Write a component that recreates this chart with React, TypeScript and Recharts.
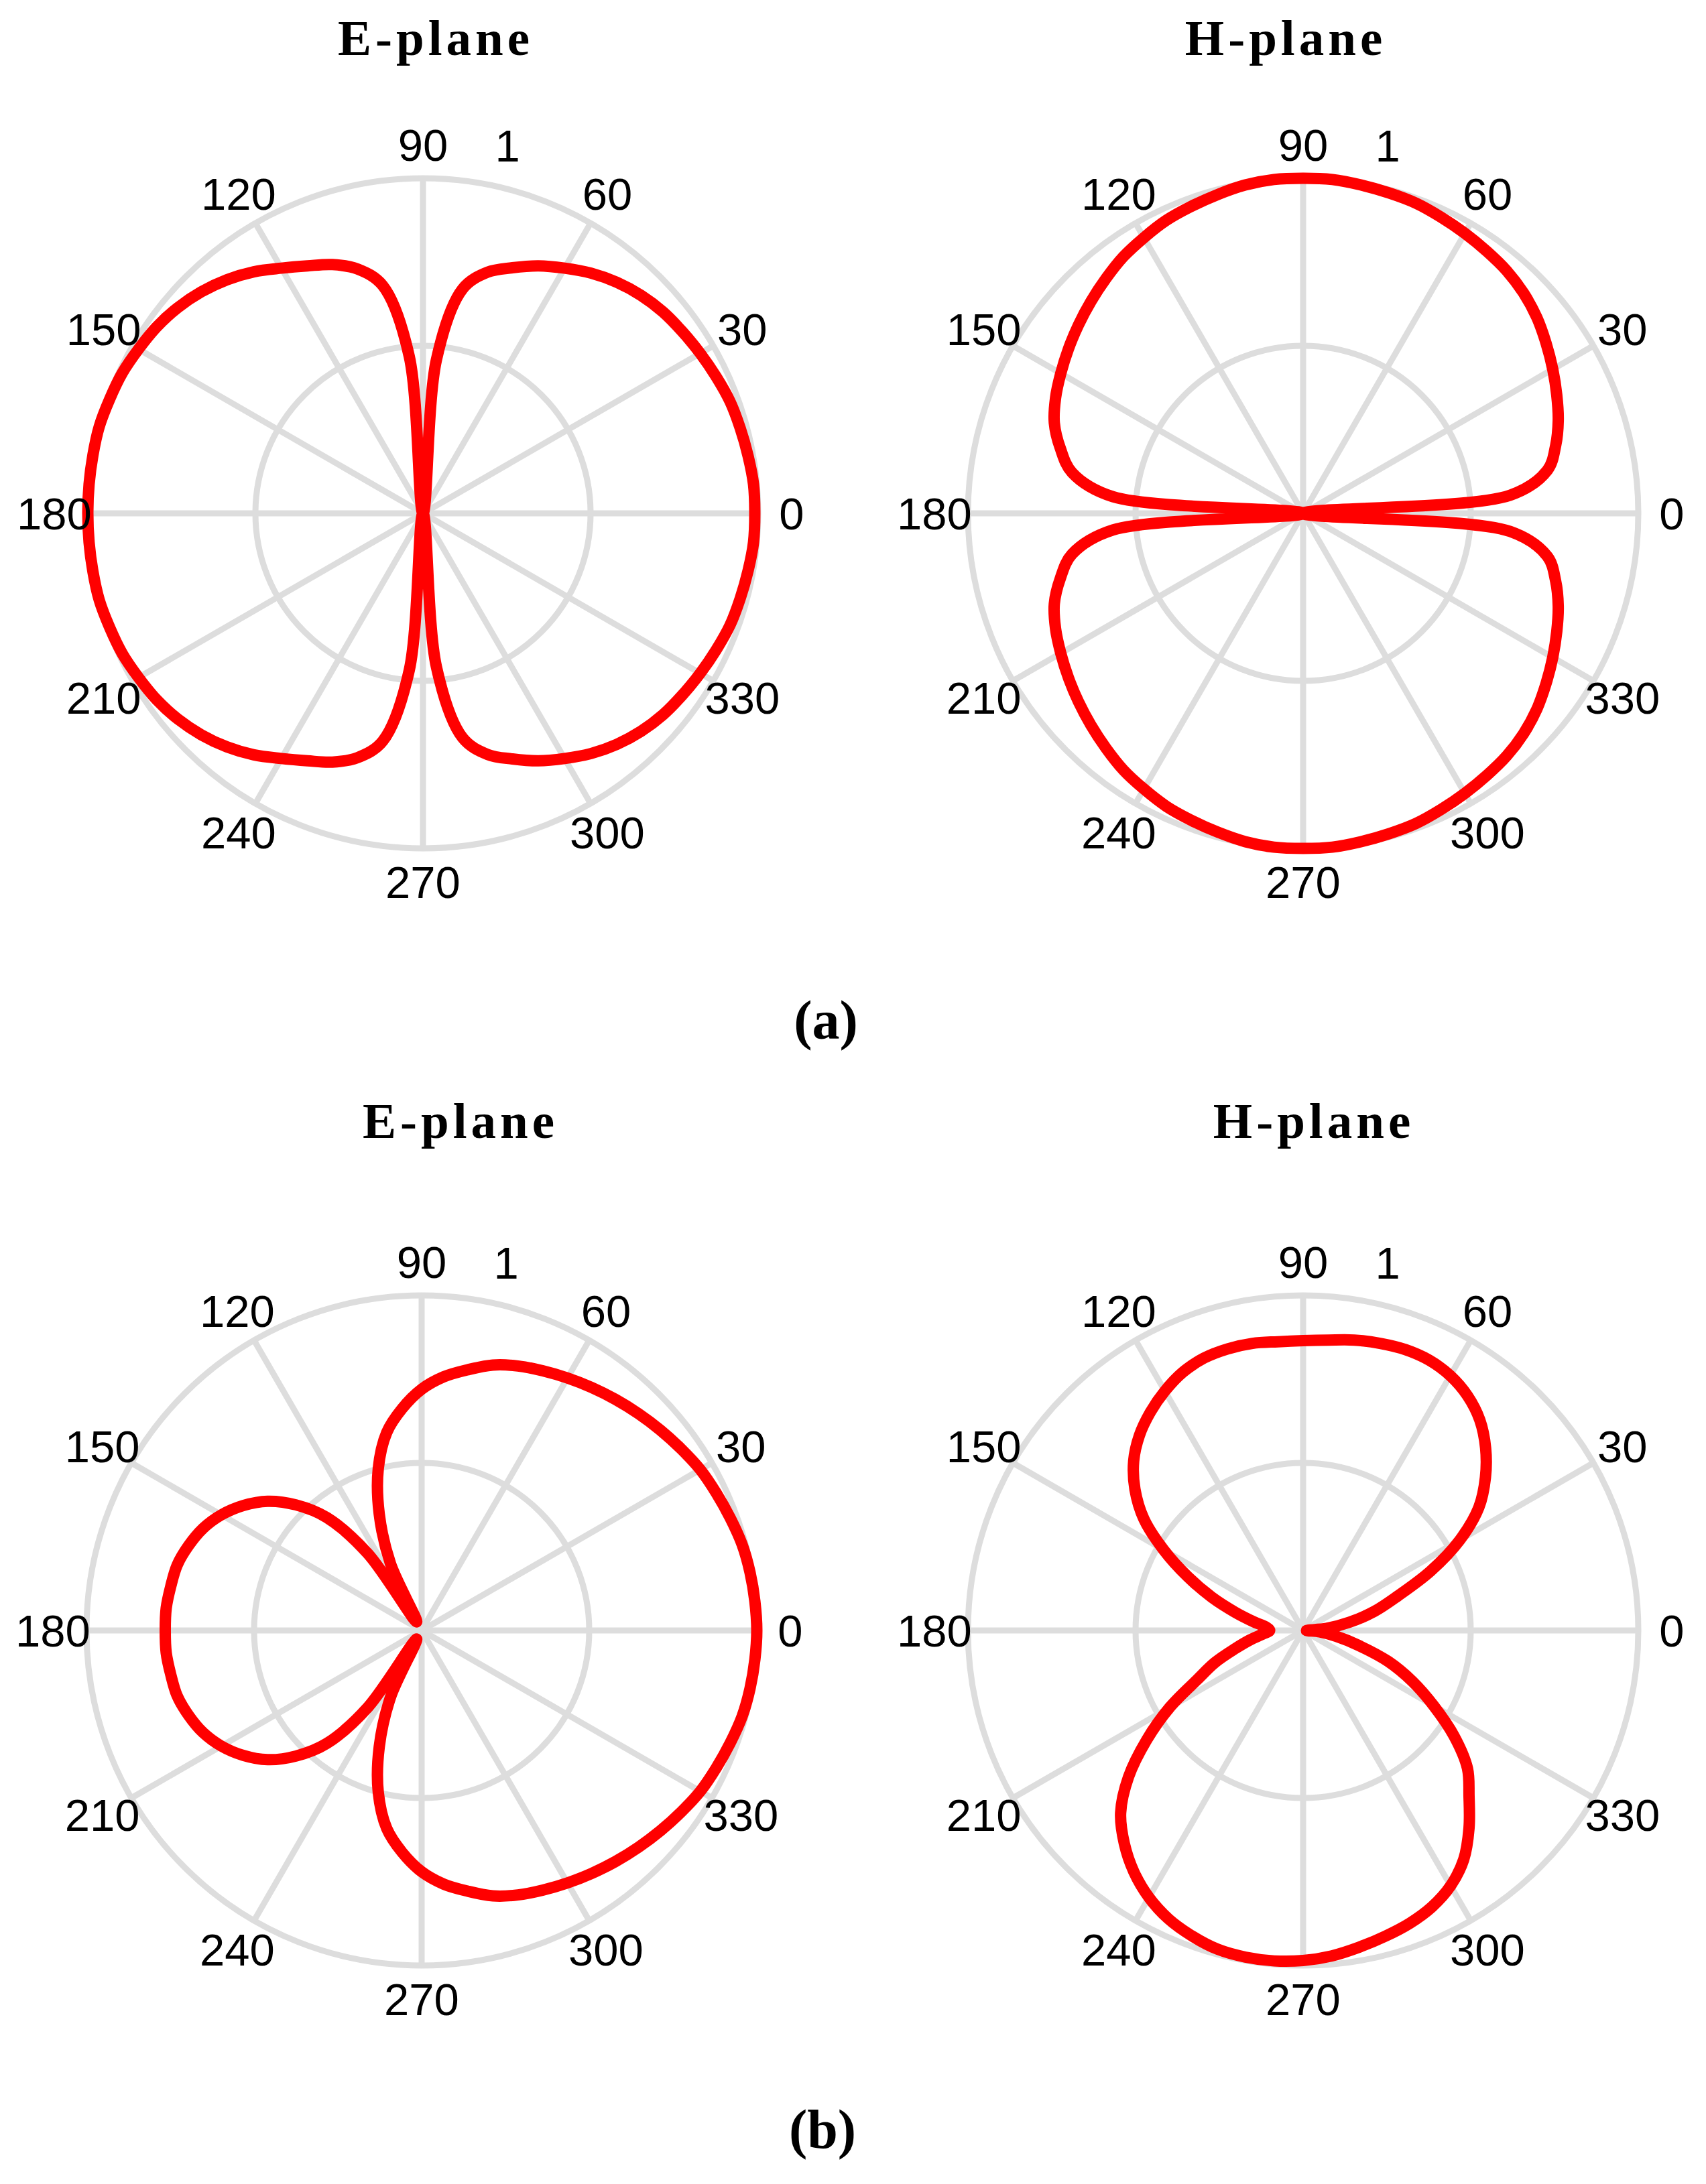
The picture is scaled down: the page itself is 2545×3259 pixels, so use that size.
import React from 'react';
import { RadarChart, Radar, PolarGrid, PolarAngleAxis, PolarRadiusAxis } from 'recharts';

// angle in degrees, counter-clockwise from 0 (east)
const angles = [
  0, 5, 10, 15, 20, 25, 30, 35, 40, 45, 50, 55, 60, 65, 70, 75, 80, 85,
  90, 95, 100, 105, 110, 115, 120, 125, 130, 135, 140, 145, 150, 155, 160, 165, 170, 175,
  180, 185, 190, 195, 200, 205, 210, 215, 220, 225, 230, 235, 240, 245, 250, 255, 260, 265,
  270, 275, 280, 285, 290, 295, 300, 305, 310, 315, 320, 325, 330, 335, 340, 345, 350, 355,
];

const gridAngles = [0, 30, 60, 90, 120, 150, 180, 210, 240, 270, 300, 330];

// (a) E-plane
const ePlaneA = [
  0.99, 0.99, 0.985, 0.98, 0.975, 0.965, 0.955, 0.945, 0.935, 0.92, 0.9, 0.875, 0.845, 0.815, 0.78, 0.745, 0.68, 0.46,
  0.0, 0.47, 0.69, 0.755, 0.79, 0.815, 0.845, 0.88, 0.91, 0.935, 0.955, 0.97, 0.98, 0.99, 0.995, 1.0, 1.0, 1.0,
  1.0, 1.0, 1.0, 1.0, 0.995, 0.99, 0.98, 0.97, 0.955, 0.935, 0.91, 0.88, 0.845, 0.815, 0.79, 0.755, 0.69, 0.47,
  0.0, 0.46, 0.68, 0.745, 0.78, 0.815, 0.845, 0.875, 0.9, 0.92, 0.935, 0.945, 0.955, 0.965, 0.975, 0.98, 0.985, 0.99,
];

// (a) H-plane
const hPlaneA = [
  0.0, 0.62, 0.74, 0.78, 0.81, 0.835, 0.86, 0.885, 0.91, 0.93, 0.945, 0.955, 0.965, 0.975, 0.985, 0.99, 0.995, 1.0,
  1.0, 1.0, 0.995, 0.985, 0.975, 0.965, 0.95, 0.935, 0.915, 0.895, 0.875, 0.855, 0.835, 0.815, 0.79, 0.75, 0.7, 0.57,
  0.0, 0.57, 0.7, 0.75, 0.79, 0.815, 0.835, 0.855, 0.875, 0.895, 0.915, 0.935, 0.95, 0.965, 0.975, 0.985, 0.995, 1.0,
  1.0, 1.0, 0.995, 0.99, 0.985, 0.975, 0.965, 0.955, 0.945, 0.93, 0.91, 0.885, 0.86, 0.835, 0.81, 0.78, 0.74, 0.62,
];

// (b) E-plane
const ePlaneB = [
  1.0, 0.998, 0.995, 0.99, 0.98, 0.97, 0.96, 0.945, 0.93, 0.915, 0.9, 0.885, 0.87, 0.855, 0.84, 0.82, 0.79, 0.76,
  0.72, 0.665, 0.6, 0.5, 0.37, 0.22, 0.03, 0.28, 0.44, 0.53, 0.6, 0.65, 0.69, 0.72, 0.74, 0.755, 0.76, 0.765,
  0.765, 0.765, 0.76, 0.755, 0.74, 0.72, 0.69, 0.65, 0.6, 0.53, 0.44, 0.28, 0.03, 0.22, 0.37, 0.5, 0.6, 0.665,
  0.72, 0.76, 0.79, 0.82, 0.84, 0.855, 0.87, 0.885, 0.9, 0.915, 0.93, 0.945, 0.96, 0.97, 0.98, 0.99, 0.995, 0.998,
];

// (b) H-plane
const hPlaneB = [
  0.01, 0.07, 0.14, 0.22, 0.3, 0.42, 0.54, 0.64, 0.71, 0.77, 0.82, 0.855, 0.878, 0.89, 0.892, 0.887, 0.88, 0.87,
  0.865, 0.865, 0.87, 0.87, 0.865, 0.85, 0.825, 0.795, 0.76, 0.715, 0.655, 0.58, 0.48, 0.38, 0.29, 0.21, 0.15, 0.11,
  0.1, 0.12, 0.16, 0.21, 0.28, 0.35, 0.46, 0.57, 0.68, 0.77, 0.83, 0.88, 0.92, 0.95, 0.97, 0.985, 0.99, 0.99,
  0.985, 0.975, 0.96, 0.945, 0.93, 0.91, 0.88, 0.835, 0.77, 0.7, 0.64, 0.55, 0.45, 0.36, 0.27, 0.17, 0.1, 0.05,
];

const W = 1230;
const H = 1230;
const CX = 630;
const CY = 615;
const R = 500;
const sans = '"Liberation Sans", Arial, sans-serif';
const serif = '"Liberation Serif", "Times New Roman", serif';

// RadarChart starts at 90 deg and runs clockwise, so rotate the table
function buildData(values: number[]) {
  const n = angles.length;
  return angles.map((_, i) => {
    const k = (18 - i + n) % n;
    return { angle: angles[k], r: values[k] };
  });
}

// closed centripetal catmull-rom through the radar points (no overshoot at the nulls)
function smoothClosedPath(pts: { x: number; y: number }[], alpha = 0.5) {
  const n = pts.length;
  const P = (i: number) => pts[(i + n) % n];
  let d = `M${pts[0].x},${pts[0].y}`;
  for (let i = 0; i < n; i++) {
    const p0 = P(i - 1);
    const p1 = P(i);
    const p2 = P(i + 1);
    const p3 = P(i + 2);
    const l01_2a = Math.pow((p1.x - p0.x) ** 2 + (p1.y - p0.y) ** 2, alpha);
    const l12_2a = Math.pow((p2.x - p1.x) ** 2 + (p2.y - p1.y) ** 2, alpha);
    const l23_2a = Math.pow((p3.x - p2.x) ** 2 + (p3.y - p2.y) ** 2, alpha);
    const l01_a = Math.sqrt(l01_2a);
    const l12_a = Math.sqrt(l12_2a);
    const l23_a = Math.sqrt(l23_2a);
    let c1x = p1.x;
    let c1y = p1.y;
    let c2x = p2.x;
    let c2y = p2.y;
    if (l01_a > 1e-6) {
      const a = 2 * l01_2a + 3 * l01_a * l12_a + l12_2a;
      const m = 3 * l01_a * (l01_a + l12_a);
      c1x = (p1.x * a - p0.x * l12_2a + p2.x * l01_2a) / m;
      c1y = (p1.y * a - p0.y * l12_2a + p2.y * l01_2a) / m;
    }
    if (l23_a > 1e-6) {
      const b = 2 * l23_2a + 3 * l23_a * l12_a + l12_2a;
      const m = 3 * l23_a * (l23_a + l12_a);
      c2x = (p2.x * b + p1.x * l23_2a - p3.x * l12_2a) / m;
      c2y = (p2.y * b + p1.y * l23_2a - p3.y * l12_2a) / m;
    }
    d += ` C${c1x},${c1y} ${c2x},${c2y} ${p2.x},${p2.y}`;
  }
  return d + ' Z';
}

function PatternShape(props: any) {
  const { points } = props;
  if (!points || points.length < 3) return <g />;
  return (
    <path
      d={smoothClosedPath(points)}
      fill="none"
      stroke="#ff0000"
      strokeWidth={17}
      strokeLinejoin="round"
    />
  );
}

function AngleTick(props: any) {
  const { x, y, payload } = props;
  if (payload.value % 30 !== 0) return <g />;
  return (
    <text x={x} y={y} textAnchor="middle" dominantBaseline="central" fontFamily={sans} fontSize={67} fill="#000">
      {payload.value}
    </text>
  );
}

function RadiusTick(props: any) {
  const { x, y, payload } = props;
  if (payload.value === 0) return <g />;
  return (
    <text x={x + 38} y={y - 30} textAnchor="start" fontFamily={sans} fontSize={67} fill="#000">
      {payload.value}
    </text>
  );
}

function Pattern({ values, cx, cy }: { values: number[]; cx: number; cy: number }) {
  const data = buildData(values);
  return (
    <div style={{ position: 'absolute', left: cx - CX, top: cy - CY }}>
      <RadarChart
        width={W}
        height={H}
        data={data}
        cx={CX}
        cy={CY}
        outerRadius={R}
        margin={{ top: 0, right: 0, bottom: 0, left: 0 }}
      >
        <PolarRadiusAxis
          angle={82}
          domain={[0, 1]}
          tickCount={3}
          axisLine={false}
          tick={(p: any) => <RadiusTick {...p} />}
        />
        <PolarGrid
          gridType="circle"
          polarAngles={gridAngles}
          polarRadius={[R * 0.5, R]}
          stroke="#dddddd"
          strokeWidth={9}
        />
        <PolarAngleAxis
          dataKey="angle"
          tickLine={false}
          axisLine={false}
          tickSize={50}
          tick={(p: any) => <AngleTick {...p} />}
        />
        <Radar
          dataKey="r"
          stroke="#ff0000"
          strokeWidth={17}
          fill="none"
          fillOpacity={0}
          dot={false}
          isAnimationActive={false}
          shape={(p: any) => <PatternShape {...p} />}
        />
      </RadarChart>
    </div>
  );
}

export default function App() {
  return (
    <div style={{ position: 'absolute', left: 0, top: 0, width: 2545, height: 3259, background: '#fff', overflow: 'hidden' }}>
      <svg width={2545} height={3259} style={{ position: 'absolute', left: 0, top: 0 }}>
        <g fontFamily={serif} fontWeight="bold" fontSize={75} letterSpacing={6} textAnchor="middle" fill="#000">
          <text x={650} y={82}>E-plane</text>
          <text x={1918} y={82}>H-plane</text>
          <text x={687} y={1698}>E-plane</text>
          <text x={1960} y={1698}>H-plane</text>
        </g>
        <g fontFamily={serif} fontWeight="bold" fontSize={82} textAnchor="middle" fill="#000">
          <text x={1232} y={1550}>(a)</text>
          <text x={1227} y={3205}>(b)</text>
        </g>
      </svg>
      <Pattern values={ePlaneA} cx={631} cy={766} />
      <Pattern values={hPlaneA} cx={1944} cy={766} />
      <Pattern values={ePlaneB} cx={629} cy={2433} />
      <Pattern values={hPlaneB} cx={1944} cy={2433} />
    </div>
  );
}
